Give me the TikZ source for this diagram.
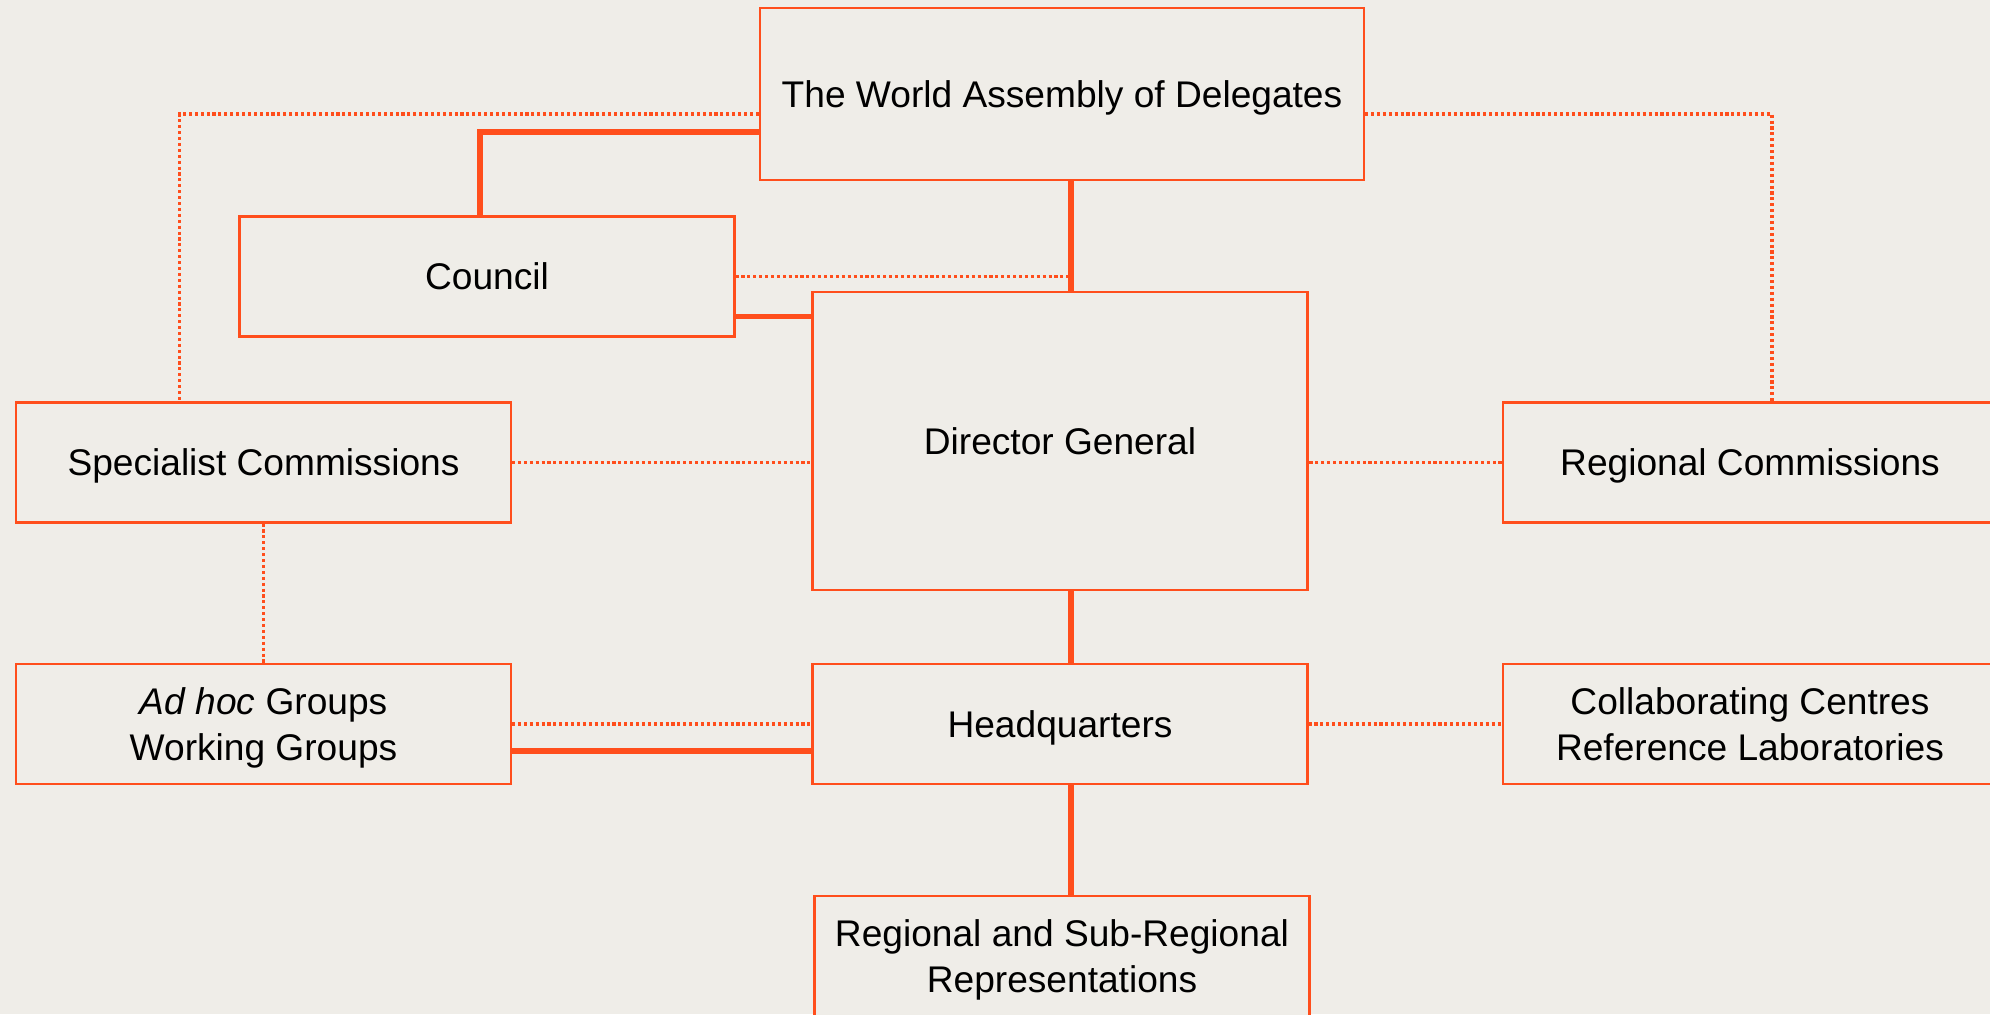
\documentclass[tikz,border=0pt]{standalone}
\usepackage{fontspec}
\setmainfont{Liberation Sans}
\usetikzlibrary{positioning,calc}
\definecolor{oieorange}{RGB}{255,78,28}
\definecolor{oiebg}{RGB}{239,237,232}

\begin{document}
\begin{tikzpicture}[
    x=0.025cm, y=-0.025cm,
    font=\fontsize{26.4}{32.5}\selectfont,
    box/.style={draw=oieorange, line width=1.5pt, fill=oiebg, align=center,
                minimum width=12.37cm, minimum height=3cm, inner sep=2pt,
                text depth=0pt},
    topbox/.style={box, minimum width=15.1cm, minimum height=4.3cm},
    main/.style={draw=oieorange, line width=3.6pt},
    link/.style={draw=oieorange, line width=2.4pt, dash pattern=on 2.2pt off 2pt},
  ]
    \fill[oiebg] (0,0) rectangle (1990,1014);
    \useasboundingbox (0,0) rectangle (1990,1014);

    \node[topbox] (wad)     at (1062,94)    {The World Assembly of Delegates};
    \node[box]    (council) at (487,276.5)  {Council};
    \node[box, minimum height=7.45cm] (dg) at (1060,441) {Director General};
    \node[box]    (spec)    at (263.5,462.5) {Specialist Commissions};
    \node[box]    (rc)      at (1750,462.5) {Regional Commissions};
    \node[box]    (adhoc)   at (263.5,724)  {\textit{Ad hoc} Groups\\Working Groups};
    \node[box]    (hq)      at (1060,724)   {Headquarters};
    \node[box]    (collab)  at (1750,724)   {Collaborating Centres\\Reference Laboratories};
    \node[box]    (regsub)  at (1062,956)   {Regional and Sub-Regional\\Representations};

    % central spine
    \coordinate (spine) at (1071,0);
    \coordinate (cdg)   at ($(council.east)+(0,40)$);
    \coordinate (ahq)   at ($(adhoc.east)+(0,27)$);

    % solid lines of authority
    \draw[main] (wad.south -| spine) -- (dg.north -| spine);
    \draw[main] (dg.south -| spine)  -- (hq.north -| spine);
    \draw[main] (hq.south -| spine)  -- (regsub.north -| spine);
    \draw[main] ($(wad.west)+(0,38)$) -| ($(council.north)+(-7,0)$);
    \draw[main] (cdg) -- (cdg -| dg.west);
    \draw[main] (ahq) -- (ahq -| hq.west);

    % dotted links
    \draw[link] ($(wad.west)+(0,20)$) -| ($(spec.north)+(-84,0)$);
    \draw[link] ($(wad.east)+(0,20)$) -| ($(rc.north)+(22,0)$);
    \draw[link] (council.east) -- (council.east -| spine);
    \draw[link] (spec.east) -- (spec.east -| dg.west);
    \draw[link] (rc.west) -- (rc.west -| dg.east);
    \draw[link] (spec.south) -- (adhoc.north);
    \draw[link] (adhoc.east) -- (hq.west);
    \draw[link] (hq.east) -- (collab.west);
\end{tikzpicture}
\end{document}
